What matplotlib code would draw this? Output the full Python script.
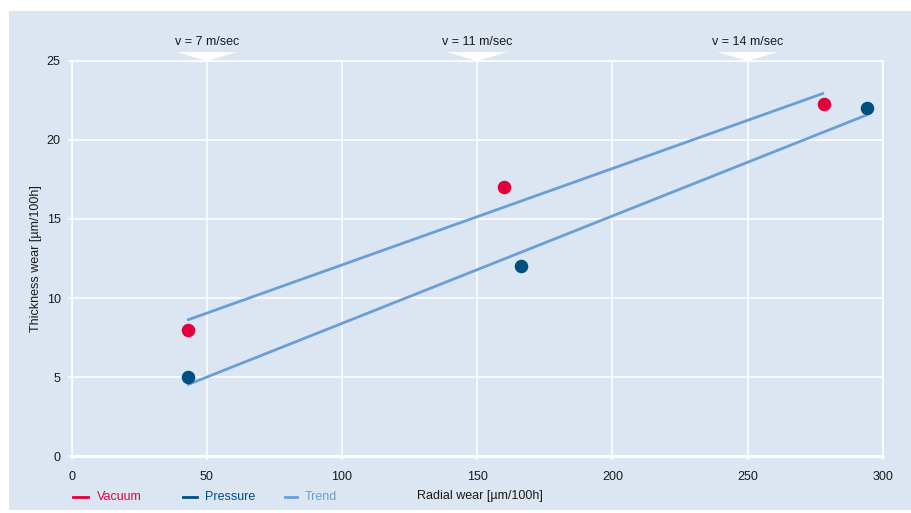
import matplotlib
matplotlib.use("Agg")
import matplotlib.pyplot as plt
from matplotlib.patches import Rectangle, Polygon
from matplotlib.lines import Line2D

# ---- data ----
vacuum_x = [42.9, 160.0, 278.1]
vacuum_y = [8.0, 17.0, 22.3]
pressure_x = [42.9, 166.1, 294.1]
pressure_y = [5.0, 12.0, 22.0]
trend_upper_x = [42.7, 278.3]
trend_upper_y = [8.6, 22.97]
trend_lower_x = [42.7, 294.3]
trend_lower_y = [4.5, 21.6]
speed_x = [50, 150, 250]
speed_labels = ["v = 7 m/sec", "v = 11 m/sec", "v = 14 m/sec"]
x_ticks = [0, 50, 100, 150, 200, 250, 300]
y_ticks = [0, 5, 10, 15, 20, 25]
legend_labels = ["Vacuum", "Pressure", "Trend"]

BG = "#dce5f2"
RED = "#e2003c"
DARK = "#00507f"
TREND = "#6a9fd4"
TXT = "#1a1a1a"

plt.rcParams['font.family'] = ['Liberation Sans', 'DejaVu Sans']

W, H = 912, 513
fig = plt.figure(figsize=(9.12, 5.13), dpi=100)
fig.patch.set_facecolor("white")
fig.patches.append(Rectangle((9/W, 3/H), 1 - 9/W, (502 - 3)/H,
                             transform=fig.transFigure, facecolor=BG,
                             edgecolor="none", zorder=-10))

ax = fig.add_axes([0.0786, 0.1111, 0.9679 - 0.0786, 0.8811 - 0.1111])
ax.set_facecolor(BG)
ax.set_xlim(0, 300)
ax.set_ylim(0, 25)
ax.set_xticks(x_ticks)
ax.set_yticks(y_ticks)
ax.grid(True, color="white", linewidth=1.1)
ax.set_axisbelow(True)
for s in ["left", "right", "top"]:
    ax.spines[s].set_color("white")
    ax.spines[s].set_linewidth(1.1)
ax.spines["bottom"].set_color("white")
ax.spines["bottom"].set_linewidth(2.2)
ax.tick_params(axis="both", colors="white", length=3, width=1.1,
               labelcolor=TXT, labelsize=9)
ax.tick_params(axis="x", pad=8)
ax.tick_params(axis="y", pad=5)

ax.plot(trend_upper_x, trend_upper_y, color=TREND, lw=2, zorder=3,
        solid_capstyle="butt")
ax.plot(trend_lower_x, trend_lower_y, color=TREND, lw=2, zorder=3,
        solid_capstyle="butt")
ax.scatter(vacuum_x, vacuum_y, s=95, color=RED, zorder=4, linewidths=0)
ax.scatter(pressure_x, pressure_y, s=95, color=DARK, zorder=4, linewidths=0)

# speed markers
xt = ax.get_xaxis_transform()
for xv, lab in zip(speed_x, speed_labels):
    tri = Polygon([(xv - 11.2, 1.0228), (xv + 11.2, 1.0228), (xv, 1.0)],
                  closed=True, transform=xt, facecolor="white",
                  edgecolor="none", clip_on=False, zorder=5)
    ax.add_patch(tri)
    ax.text(xv, 1.049, lab, transform=xt, ha="center", va="center",
            fontsize=9, color=TXT)

ax.set_ylabel("Thickness wear [µm/100h]", fontsize=9, color=TXT, labelpad=3)
fig.text(480/W, 1 - 496/H, "Radial wear [µm/100h]", ha="center",
         va="center", fontsize=9, color=TXT)

# legend (manual)
leg_colors = (RED, DARK, TREND)
leg_line_x = [(73, 88), (183, 197), (285, 297)]
leg_text_x = [97, 205, 305]
ly = 1 - 497/H
for (x0, x1), tx, lab, c in zip(leg_line_x, leg_text_x, legend_labels, leg_colors):
    fig.add_artist(Line2D([x0/W, x1/W], [ly, ly], transform=fig.transFigure,
                          color=c, lw=2))
    fig.text(tx/W, ly, lab, ha="left", va="center", fontsize=9, color=c)

fig.savefig("out.png", dpi=100, facecolor="white")
